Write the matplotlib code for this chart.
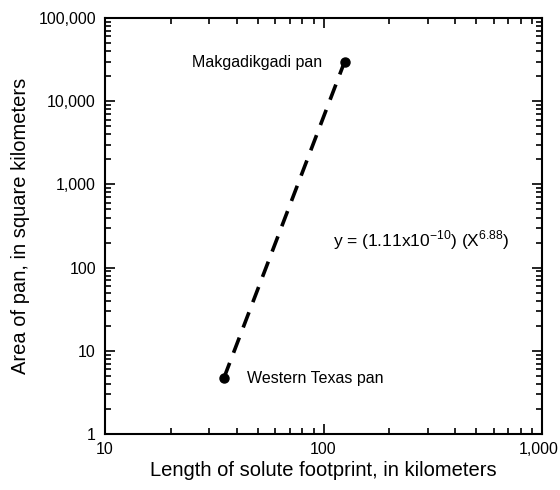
import numpy as np
import matplotlib
matplotlib.use("Agg")
import matplotlib.pyplot as plt
from matplotlib.ticker import FuncFormatter, LogLocator, NullFormatter
from matplotlib.transforms import ScaledTranslation

# Datos de las dos salinas
pan_names = ["Western Texas pan", "Makgadikgadi pan"]
footprint_km = [35, 125]
area_km2 = [4.7, 30000]

plt.rcParams['font.family'] = ['Liberation Sans', 'DejaVu Sans']

fig = plt.figure(figsize=(5.6, 4.9), dpi=100)
ax = fig.add_axes([105 / 560, 1 - 434 / 490, 437 / 560, 416 / 490])

ax.plot(footprint_km, area_km2, linestyle=(0, (4.5, 3.0)), color='black', linewidth=2.6)
ax.plot(footprint_km, area_km2, 'o', color='black', markersize=6.5)

ax.set_xscale('log')
ax.set_yscale('log')
ax.set_xlim(10, 1000)
ax.set_ylim(1, 100000)

fmt = FuncFormatter(lambda v, p: f'{int(round(v)):,}')
ax.xaxis.set_major_formatter(fmt)
ax.yaxis.set_major_formatter(fmt)
ax.xaxis.set_minor_locator(LogLocator(base=10, subs=np.arange(2, 10)))
ax.yaxis.set_minor_locator(LogLocator(base=10, subs=np.arange(2, 10)))
ax.xaxis.set_minor_formatter(NullFormatter())
ax.yaxis.set_minor_formatter(NullFormatter())

ax.tick_params(which='both', direction='in', top=True, right=True, labelsize=11.5, width=1.2)
ax.tick_params(which='major', length=7)
ax.tick_params(which='minor', length=4)
ax.tick_params(axis='x', pad=6)
ax.tick_params(axis='y', pad=6.5)
for s in ax.spines.values():
    s.set_linewidth(1.5)

ax.set_xlabel('Length of solute footprint, in kilometers', fontsize=14.5, labelpad=3)
ax.set_ylabel('Area of pan, in square kilometers', fontsize=14.5, labelpad=6)

# Etiquetas de los puntos
ax.text(44.5, area_km2[0], pan_names[0], fontsize=11.5, va='center', ha='left')
ax.text(99, area_km2[1] * 0.97, pan_names[1], fontsize=11.5, va='center', ha='right')
ax.text(110, 215, r'y = (1.11x10$^{\mathregular{-10}}$) (X$^{\mathregular{6.88}}$)', fontsize=12.5, va='center', ha='left')

# Mover un poco la etiqueta 1,000 para que no se corte
fig.canvas.draw()
for lbl in ax.xaxis.get_majorticklabels():
    if lbl.get_text() == '1,000':
        lbl.set_transform(lbl.get_transform() + ScaledTranslation(-3 / 100, 0, fig.dpi_scale_trans))

fig.savefig('out.png', dpi=100)
